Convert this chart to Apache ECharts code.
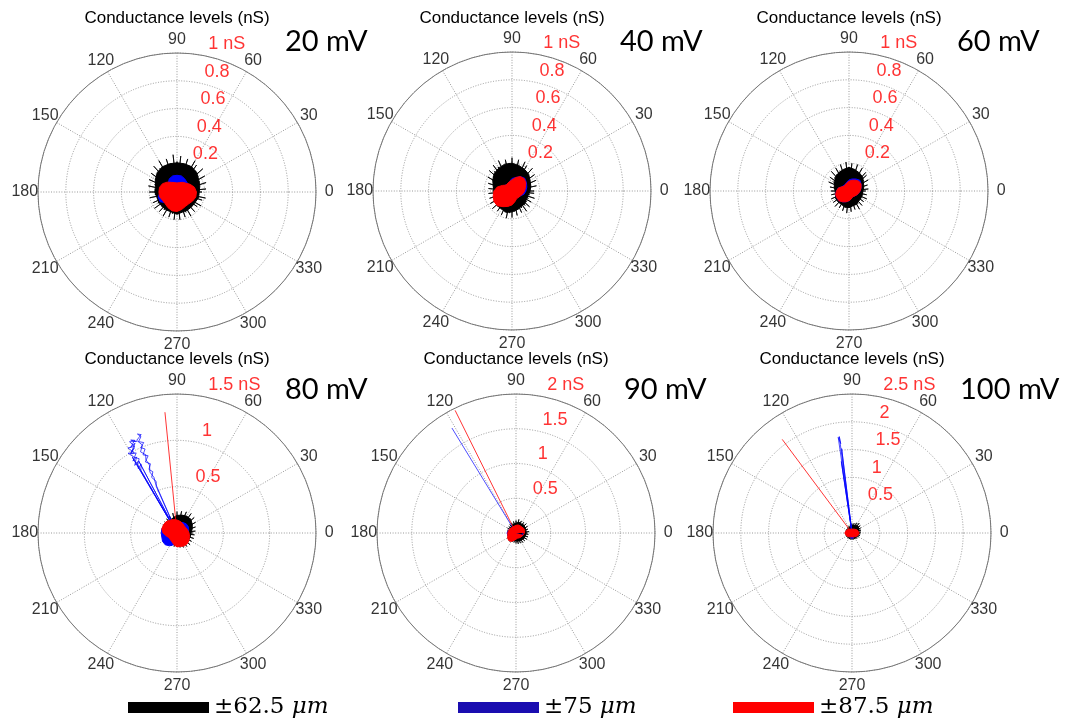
<!DOCTYPE html>
<html><head><meta charset="utf-8">
<script src="https://cdn.jsdelivr.net/npm/echarts/dist/echarts.min.js"></script>
<style>html,body{margin:0;padding:0;background:#fff}#c{width:1083px;height:721px}</style>
</head><body><div id="c"></div>
<script>
// ---------- data ----------
const voltages = ['20 mV', '40 mV', '60 mV', '80 mV', '90 mV', '100 mV'];
const rMax = [1, 1, 1, 1.5, 2, 2.5];
const rStep = [0.2, 0.2, 0.2, 0.5, 0.5, 0.5];
const tickVals = [
  [0.2, 0.4, 0.6, 0.8, 1], [0.2, 0.4, 0.6, 0.8, 1], [0.2, 0.4, 0.6, 0.8, 1],
  [0.5, 1, 1.5], [0.5, 1, 1.5, 2], [0.5, 1, 1.5, 2, 2.5]
];
const tickLabels = [
  ['0.2', '0.4', '0.6', '0.8', '1 nS'], ['0.2', '0.4', '0.6', '0.8', '1 nS'], ['0.2', '0.4', '0.6', '0.8', '1 nS'],
  ['0.5', '1', '1.5 nS'], ['0.5', '1', '1.5', '2 nS'], ['0.5', '1', '1.5', '2', '2.5 nS']
];
const angleTicks = [0, 30, 60, 90, 120, 150, 180, 210, 240, 270, 300, 330];
const legendNames = ['±62.5 μm', '±75 μm', '±87.5 μm'];

const spikeAngles = [0,6,12,18,24,30,36,42,48,54,60,66,72,78,84,90,96,102,108,114,120,126,132,138,144,150,156,162,168,174,180,186,192,198,204,210,216,222,228,234,240,246,252,258,264,270,276,282,288,294,300,306,312,318,324,330,336,342,348,354];
const blobAngles = [0,15,30,45,60,75,90,105,120,135,150,165,180,195,210,225,240,255,270,285,300,315,330,345];

// black (±62.5 µm): outer tips of the trace, nS, at spikeAngles
const black20 = [0.18,0.21,0.16,0.22,0.18,0.23,0.19,0.25,0.20,0.24,0.26,0.21,0.25,0.20,0.26,0.22,0.27,0.21,0.25,0.20,0.26,0.21,0.25,0.19,0.23,0.18,0.22,0.17,0.21,0.16,0.20,0.16,0.20,0.15,0.19,0.16,0.20,0.15,0.19,0.16,0.20,0.15,0.19,0.16,0.20,0.16,0.20,0.15,0.19,0.16,0.20,0.15,0.19,0.14,0.18,0.20,0.15,0.19,0.21,0.16];
const black40 = [0.16,0.13,0.18,0.14,0.19,0.15,0.20,0.16,0.22,0.17,0.21,0.23,0.18,0.23,0.19,0.24,0.20,0.23,0.19,0.24,0.20,0.23,0.19,0.22,0.17,0.20,0.15,0.18,0.14,0.17,0.14,0.17,0.13,0.17,0.14,0.18,0.15,0.19,0.15,0.18,0.15,0.19,0.16,0.20,0.16,0.19,0.15,0.18,0.14,0.17,0.14,0.18,0.14,0.17,0.13,0.16,0.13,0.17,0.13,0.16];
const black60 = [0.12,0.14,0.10,0.14,0.11,0.16,0.13,0.17,0.18,0.14,0.19,0.15,0.20,0.16,0.20,0.17,0.21,0.16,0.20,0.16,0.19,0.15,0.19,0.14,0.17,0.13,0.16,0.11,0.14,0.10,0.13,0.10,0.13,0.10,0.14,0.11,0.14,0.11,0.15,0.11,0.14,0.11,0.15,0.12,0.16,0.12,0.15,0.11,0.14,0.11,0.15,0.11,0.14,0.10,0.13,0.10,0.14,0.10,0.13,0.10];
const black80 = [0.17,0.20,0.16,0.21,0.18,0.23,0.19,0.25,0.21,0.26,0.21,0.25,0.20,0.24,0.19,0.23,0.18,0.22,0.17,0.20,0.16,0.19,0.15,0.18,0.14,0.17,0.14,0.17,0.13,0.16,0.13,0.16,0.12,0.15,0.12,0.16,0.13,0.17,0.13,0.16,0.12,0.15,0.12,0.15,0.12,0.15,0.12,0.16,0.13,0.17,0.14,0.18,0.15,0.19,0.15,0.18,0.15,0.19,0.15,0.19];
const black90 = [0.16,0.19,0.14,0.18,0.15,0.19,0.15,0.20,0.16,0.19,0.15,0.19,0.16,0.20,0.15,0.18,0.14,0.17,0.13,0.16,0.12,0.15,0.11,0.14,0.11,0.14,0.10,0.13,0.10,0.13,0.10,0.13,0.10,0.13,0.11,0.14,0.11,0.15,0.12,0.15,0.11,0.14,0.11,0.14,0.11,0.15,0.12,0.16,0.12,0.16,0.13,0.17,0.13,0.17,0.14,0.18,0.14,0.18,0.14,0.18];
const black100 = [0.14,0.16,0.13,0.17,0.14,0.18,0.15,0.20,0.17,0.22,0.17,0.20,0.15,0.18,0.14,0.17,0.12,0.15,0.11,0.14,0.10,0.13,0.09,0.12,0.09,0.12,0.09,0.12,0.09,0.12,0.09,0.12,0.09,0.12,0.09,0.12,0.09,0.12,0.09,0.12,0.09,0.12,0.09,0.12,0.09,0.12,0.09,0.12,0.09,0.12,0.10,0.13,0.10,0.13,0.11,0.14,0.11,0.15,0.12,0.15];
// black dense core, nS, at blobAngles
const blackCore20 = [0.16,0.17,0.18,0.20,0.21,0.21,0.21,0.21,0.21,0.20,0.18,0.16,0.16,0.15,0.15,0.15,0.15,0.15,0.16,0.15,0.15,0.15,0.15,0.16];
const blackCore40 = [0.13,0.14,0.15,0.17,0.18,0.19,0.20,0.20,0.19,0.18,0.16,0.14,0.13,0.13,0.14,0.15,0.15,0.16,0.15,0.14,0.13,0.13,0.12,0.12];
const blackCore60 = [0.10,0.11,0.12,0.14,0.15,0.16,0.17,0.16,0.15,0.14,0.12,0.11,0.10,0.10,0.11,0.11,0.11,0.12,0.12,0.11,0.11,0.10,0.10,0.10];
const blackCore80 = [0.15,0.17,0.19,0.21,0.21,0.20,0.19,0.17,0.15,0.14,0.13,0.13,0.12,0.11,0.12,0.12,0.11,0.11,0.11,0.12,0.13,0.14,0.14,0.15];
const blackCore90 = [0.14,0.15,0.15,0.16,0.15,0.16,0.14,0.13,0.12,0.11,0.10,0.10,0.10,0.10,0.11,0.12,0.11,0.11,0.11,0.12,0.12,0.13,0.14,0.14];
const blackCore100 = [0.12,0.13,0.14,0.16,0.16,0.14,0.13,0.11,0.09,0.08,0.08,0.08,0.08,0.08,0.08,0.08,0.08,0.08,0.08,0.08,0.09,0.10,0.10,0.11];

// blue (±75 µm) and red (±87.5 µm) central clusters, nS, at blobAngles
const blue20 = [0.11,0.11,0.10,0.10,0.11,0.12,0.12,0.12,0.11,0.09,0.10,0.11,0.12,0.14,0.14,0.11,0.11,0.12,0.12,0.11,0.10,0.10,0.11,0.12];
const red20  = [0.14,0.13,0.11,0.09,0.08,0.07,0.065,0.07,0.08,0.10,0.12,0.13,0.13,0.13,0.12,0.12,0.13,0.14,0.14,0.13,0.12,0.12,0.13,0.14];
const blue40 = [0.10,0.11,0.12,0.13,0.12,0.10,0.09,0.07,0.06,0.06,0.07,0.10,0.12,0.13,0.14,0.14,0.12,0.10,0.08,0.07,0.06,0.06,0.07,0.09];
const red40  = [0.09,0.10,0.115,0.125,0.12,0.10,0.08,0.07,0.065,0.06,0.08,0.11,0.13,0.14,0.15,0.15,0.13,0.115,0.10,0.08,0.065,0.06,0.07,0.08];
const blue60 = [0.08,0.09,0.10,0.11,0.10,0.09,0.08,0.065,0.055,0.05,0.06,0.08,0.09,0.10,0.10,0.10,0.09,0.08,0.07,0.06,0.05,0.05,0.06,0.07];
const red60  = [0.08,0.09,0.10,0.10,0.09,0.08,0.07,0.06,0.055,0.05,0.06,0.08,0.09,0.10,0.10,0.10,0.09,0.08,0.07,0.06,0.05,0.05,0.06,0.07];
const blue80 = [0.12,0.13,0.14,0.14,0.13,0.12,0.12,0.13,0.14,0.15,0.16,0.17,0.17,0.17,0.18,0.18,0.16,0.13,0.12,0.11,0.11,0.11,0.12,0.12];
const red80  = [0.13,0.12,0.11,0.11,0.12,0.13,0.14,0.15,0.16,0.17,0.17,0.17,0.15,0.12,0.10,0.10,0.11,0.13,0.15,0.15,0.16,0.16,0.15,0.14];
const blue90 = [0.10,0.11,0.11,0.11,0.10,0.10,0.09,0.09,0.09,0.10,0.11,0.12,0.13,0.12,0.12,0.13,0.12,0.10,0.08,0.07,0.07,0.08,0.09,0.10];
const red90  = [0.12,0.13,0.13,0.13,0.12,0.12,0.11,0.10,0.10,0.10,0.11,0.11,0.12,0.12,0.14,0.15,0.14,0.11,0.09,0.08,0.08,0.09,0.10,0.11];
const blue100 = [0.10,0.10,0.09,0.08,0.07,0.06,0.06,0.06,0.06,0.07,0.08,0.09,0.10,0.10,0.09,0.08,0.08,0.09,0.10,0.09,0.08,0.08,0.09,0.10];
const red100  = [0.13,0.13,0.11,0.09,0.08,0.07,0.07,0.07,0.08,0.09,0.11,0.12,0.13,0.13,0.11,0.09,0.08,0.07,0.07,0.07,0.08,0.09,0.11,0.12];

// long excursions [nS, deg]
const blueTrace80 = [[0,0],
  [0.78,120],[0.84,117.5],[0.81,121],[0.88,119],[0.86,122],[0.93,118],[0.91,121.5],[0.97,117],[0.99,120.5],[1.03,116.5],
  [1.0,119.5],[1.07,115],[1.05,118.5],[1.1,114.5],[1.12,116.5],[1.08,113.8],[1.11,117.5],[1.04,116],[1.06,120],[0.98,118],
  [1.01,121.5],[0.94,119.5],[0.9,117],[0.85,120],[0,0],
  [0.55,114],[0.6,112],[0.66,114.5],[0.71,111.5],[0.75,113.8],[0.8,111],[0.84,114],[0.89,110.5],[0.92,113.5],[0.97,110.8],
  [1.0,113],[1.04,110.2],[1.07,112.8],[1.11,110.5],[1.15,111.8],[1.13,110],[1.09,113.5],[1.02,111.5],[0.96,114.2],[0.91,111.8],
  [0.86,113],[0.79,112],[0.72,114],[0.65,112.5],[0.58,113.5],[0,0],[0.95,120.5],[0,0],[0.88,118],[0,0]];
const redTrace80 = [[0,0],[1.31,95.7]];
const blueTrace90 = [[0,0],[1.77,121.4]];
const redTrace90 = [[0,0],[1.97,116.4]];
const blueTrace100 = [[0,0],[1.75,97.5],[1.62,97.2],[1.74,98.2],[0,0],[1.53,97],[0,0],[1.3,98.5],[0,0]];
const redTrace100 = [[0,0],[2.1,126.7]];

// ---------- layout ----------
const centers = [[177,192],[512,191],[849,191],[177,533],[516,533],[852,533]];
const R = 139;
const blacks = [black20, black40, black60, black80, black90, black100];
const blackCores = [blackCore20, blackCore40, blackCore60, blackCore80, blackCore90, blackCore100];
const blues = [blue20, blue40, blue60, blue80, blue90, blue100];
const reds = [red20, red40, red60, red80, red90, red100];
const blueTraces = [null, null, null, blueTrace80, blueTrace90, blueTrace100];
const redTraces = [null, null, null, redTrace80, redTrace90, redTrace100];

function outline(radii, angles) {
  const d = radii.map((r, i) => [r, angles[i]]);
  d.push([radii[0], 360]);
  return d;
}
function spikes(radii, angles) {
  const d = [];
  radii.forEach((r, i) => { d.push([0, angles[i]]); d.push([r, angles[i]]); });
  d.push([0, 0]);
  return d;
}

const FONT = 'Liberation Sans, Arial, sans-serif';
const GRID = { color: '#999', width: 1, type: [1, 1.6] };
const polar = [], angleAxis = [], radiusAxis = [], series = [], title = [];
centers.forEach((c, i) => {
  polar.push({ center: c, radius: R });
  angleAxis.push({
    polarIndex: i, type: 'value', min: 0, max: 360, interval: 30, startAngle: 0, clockwise: false,
    axisLine: { show: true, lineStyle: { color: '#777', width: 1 } },
    axisTick: { show: false }, axisLabel: { show: false },
    splitLine: { show: true, lineStyle: GRID }
  });
  radiusAxis.push({
    polarIndex: i, type: 'value', min: 0, max: rMax[i], interval: rStep[i],
    axisLine: { show: false }, axisTick: { show: false }, axisLabel: { show: false },
    splitLine: { show: true, lineStyle: GRID }
  });
  const row2 = c[1] > 300;
  title.push({ text: 'Conductance levels (nS)', left: c[0], top: row2 ? 351 : 10, textAlign: 'center', padding: 0,
    textStyle: { fontSize: 17, fontWeight: 'normal', color: '#000', fontFamily: FONT } });
  title.push({ text: voltages[i], left: c[0] + 108, top: row2 ? 375 : 27, padding: 0,
    textStyle: { fontSize: 29, fontWeight: 'normal', color: '#000', fontFamily: 'Lato, Open Sans, sans-serif' } });

  const common = { type: 'line', coordinateSystem: 'polar', polarIndex: i, showSymbol: false, symbol: 'none',
    silent: true, animation: false };
  const area = (name, data, color, z) => Object.assign({}, common, { name, data,
    lineStyle: { color, width: 1 }, itemStyle: { color }, areaStyle: { color, opacity: 1 }, z });
  series.push(Object.assign({}, common, { name: legendNames[0], data: spikes(blacks[i], spikeAngles),
    lineStyle: { color: '#000', width: 0.8 }, itemStyle: { color: '#000' }, z: 2 }));
  series.push(area(legendNames[0], outline(blackCores[i], blobAngles), '#000', 2));
  series.push(area(legendNames[1], outline(blues[i], blobAngles), '#0000ff', 3));
  if (blueTraces[i]) series.push(Object.assign({}, common, { name: legendNames[1], data: blueTraces[i],
    lineStyle: { color: '#0000ff', width: 0.7 }, itemStyle: { color: '#0000ff' }, z: 3 }));
  series.push(area(legendNames[2], outline(reds[i], blobAngles), '#ff0000', 4));
  if (redTraces[i]) series.push(Object.assign({}, common, { name: legendNames[2], data: redTraces[i],
    lineStyle: { color: '#ff0000', width: 0.8 }, itemStyle: { color: '#ff0000' }, z: 4 }));
  // radial tick labels (red), placed at 82 degrees like MATLAB polar
  series.push({ type: 'scatter', coordinateSystem: 'polar', polarIndex: i, silent: true, animation: false, clip: false,
    symbolSize: 1, itemStyle: { color: 'rgba(0,0,0,0)' }, z: 5,
    data: tickVals[i].map(v => [v, 82]),
    label: { show: true, position: 'inside', align: 'left', verticalAlign: 'middle', offset: [12, -10],
      color: '#ff0000', fontSize: 18, fontFamily: FONT,
      formatter: p => tickLabels[i][p.dataIndex] } });
  // angle labels, centred at 1.1 R like MATLAB polar
  series.push({ type: 'scatter', coordinateSystem: 'polar', polarIndex: i, silent: true, animation: false, clip: false,
    symbolSize: 1, itemStyle: { color: 'rgba(0,0,0,0)' }, z: 5,
    data: angleTicks.map(a => [rMax[i] * 1.095, a]),
    label: { show: true, position: 'inside', align: 'center', verticalAlign: 'middle',
      color: '#000', fontSize: 16, fontFamily: FONT,
      formatter: p => String(angleTicks[p.dataIndex]) } });
});

const legendColors = ['#000000', '#1a0db0', '#ff0000'];
const legendLeft = [128, 458, 733];
const legend = legendNames.map((n, k) => ({
  data: [{ name: n, itemStyle: { color: legendColors[k] } }],
  left: legendLeft[k], top: 696, padding: 0, icon: 'rect', itemWidth: 81, itemHeight: 11,
  selectedMode: false,
  formatter: name => name.replace('μm', '{i|μm}'),
  textStyle: { fontSize: 23, color: '#000', fontFamily: 'DejaVu Serif, serif',
    rich: { i: { fontSize: 23, fontStyle: 'italic', fontFamily: 'DejaVu Serif, serif', color: '#000' } } }
}));

const chart = echarts.init(document.getElementById('c'), null, { renderer: 'canvas' });
chart.setOption({ animation: false, backgroundColor: '#fff', title, polar, angleAxis, radiusAxis, legend, series });
</script></body></html>
